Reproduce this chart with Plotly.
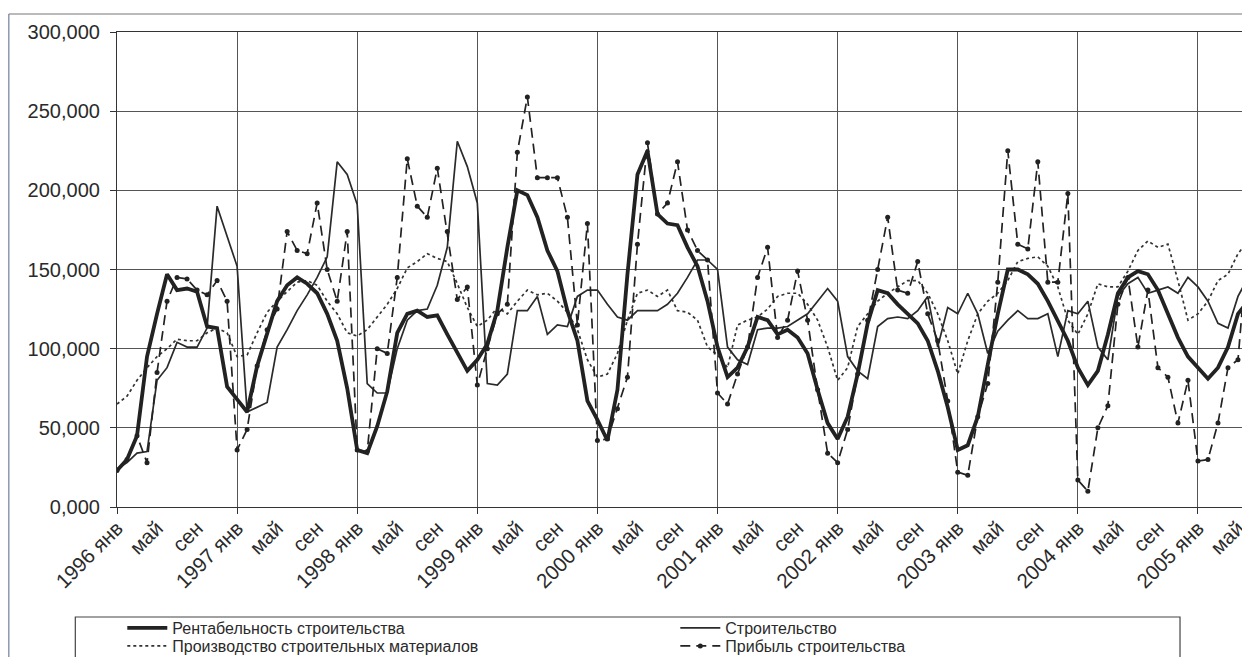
import plotly.graph_objects as go

# ---- data (thousands) ----
months_idx = list(range(114))  # 1996 янв .. 2005 июн

rentab = [23, 30, 45, 95, 122, 147, 137, 138, 136, 114, 113, 76,
          68, 60, 89, 110, 130, 140, 145, 141, 135, 122, 105, 75,
          36, 34, 51, 73, 110, 122, 124, 120, 121, 109, 97, 86,
          93, 103, 124, 164, 200, 197, 183, 162, 149, 124, 105, 67,
          55, 42, 74, 147, 210, 225, 185, 179, 178, 164, 152, 130,
          101, 82, 88, 101, 120, 118, 109, 112, 107, 97, 74, 53,
          43, 57, 84, 116, 137, 135, 128, 122, 116, 105, 86, 63,
          36, 39, 57, 90, 122, 150, 150, 147, 141, 130, 118, 105,
          88, 77, 86, 109, 135, 145, 149, 147, 137, 122, 107, 95,
          88, 81, 88, 101, 122, 130]

stroit = [24, 28, 34, 35, 80, 88, 104, 101, 101, 113, 190, 171,
          152, 60, 63, 66, 101, 112, 124, 134, 145, 158, 218, 210,
          191, 78, 72, 72, 100, 118, 124, 125, 140, 164, 231, 215,
          192, 78, 77, 84, 124, 124, 133, 109, 115, 114, 133, 137,
          137, 128, 120, 118, 124, 124, 124, 128, 135, 145, 156, 156,
          150, 101, 93, 90, 112, 113, 113, 114, 118, 122, 130, 138,
          130, 95, 86, 81, 114, 119, 120, 119, 124, 133, 101, 126,
          122, 135, 122, 97, 111, 118, 124, 119, 119, 122, 95, 124,
          122, 130, 101, 93, 133, 141, 145, 135, 137, 139, 135, 145,
          139, 130, 116, 113, 133, 145]

proizv = [65, 70, 80, 88, 95, 100, 106, 105, 105, 110, 113, 110,
          95, 96, 110, 123, 130, 136, 142, 143, 140, 130, 122, 110,
          108, 112, 120, 128, 138, 151, 155, 160, 157, 155, 141, 126,
          114, 118, 126, 122, 130, 137, 134, 135, 130, 123, 112, 93,
          82, 84, 97, 118, 135, 137, 133, 137, 124, 123, 118, 101,
          96, 88, 115, 118, 120, 125, 133, 135, 135, 128, 118, 101,
          80, 88, 114, 122, 130, 135, 139, 143, 143, 135, 122, 105,
          84, 105, 122, 130, 135, 143, 155, 157, 158, 152, 139, 118,
          109, 122, 141, 139, 139, 149, 162, 168, 164, 166, 143, 118,
          122, 130, 143, 147, 160, 168]

pribyl = [23, 30, 45, 28, 85, 130, 145, 144, 137, 134, 143, 130,
          36, 49, 89, 112, 125, 174, 162, 160, 192, 150, 130, 174,
          36, 35, 100, 97, 145, 220, 190, 183, 214, 174, 131, 139,
          77, 100, 122, 128, 224, 259, 208, 208, 208, 183, 115, 179,
          42, 43, 62, 82, 166, 230, 185, 192, 218, 175, 162, 156,
          72, 65, 84, 101, 145, 164, 107, 118, 149, 118, 74, 34,
          28, 49, 84, 118, 150, 183, 137, 135, 155, 122, 105, 67,
          22, 20, 57, 78, 142, 225, 166, 163, 218, 142, 142, 198,
          17, 10, 50, 64, 128, 145, 101, 137, 88, 82, 53, 80,
          29, 30, 53, 88, 93, 168]

tick_positions = list(range(0, 114, 4))
tick_labels = ["1996 янв", "май", "сен", "1997 янв", "май", "сен",
               "1998 янв", "май", "сен", "1999 янв", "май", "сен",
               "2000 янв", "май", "сен", "2001 янв", "май", "сен",
               "2002 янв", "май", "сен", "2003 янв", "май", "сен",
               "2004 янв", "май", "сен", "2005 янв", "май"]
year_grid = list(range(0, 114, 12))

names = ["Рентабельность строительства", "Строительство",
         "Производство строительных материалов", "Прибыль строительства"]

FONT = "Liberation Sans, Arial, sans-serif"
OFF = 8  # page body margin: figure is drawn 8px right/down of page origin
W, H = 1250 - OFF, 657 - OFF
# plot area in page pixels
L, R, T, B = 116.7 - OFF, 1248.0 - OFF, 32.0 - OFF, 507.0 - OFF


def px(x):  # page pixel -> paper x
    return (x - OFF - L) / (R - L)


def py(y):  # page pixel -> paper y
    return (B - (y - OFF)) / (B - T)


fig = go.Figure()
fig.add_trace(go.Scatter(x=months_idx, y=proizv, name=names[2], mode="lines",
                         line=dict(color="#333333", width=1.7, dash="dot"),
                         legend="legend2", legendrank=1))
fig.add_trace(go.Scatter(x=months_idx, y=stroit, name=names[1], mode="lines",
                         line=dict(color="#2a2a2a", width=1.7),
                         legend="legend", legendrank=2))
fig.add_trace(go.Scatter(x=months_idx, y=pribyl, name=names[3], mode="lines+markers",
                         line=dict(color="#222222", width=1.7, dash="10px,6px"),
                         marker=dict(size=5, color="#222222"),
                         legend="legend2", legendrank=2))
fig.add_trace(go.Scatter(x=months_idx, y=rentab, name=names[0], mode="lines",
                         line=dict(color="#222222", width=3.8),
                         legend="legend", legendrank=1))

shapes = [
    # outer chart border (top and left)
    dict(type="line", xref="paper", yref="paper", x0=px(8.5), x1=px(1255), y0=py(14), y1=py(14),
         line=dict(color="#777777", width=1.2)),
    dict(type="line", xref="paper", yref="paper", x0=px(8.5), x1=px(8.5), y0=py(14), y1=py(665),
         line=dict(color="#6f7f9a", width=1.2)),
    # legend box
    dict(type="rect", xref="paper", yref="paper", x0=px(75), x1=px(1180), y0=py(617), y1=py(700),
         line=dict(color="#444444", width=1.2), fillcolor="rgba(0,0,0,0)"),
]

leg_common = dict(orientation="h", xanchor="left", yanchor="top",
                  entrywidth=498, entrywidthmode="pixels",
                  font=dict(size=16, family=FONT, color="#2a2a2a"),
                  bgcolor="rgba(0,0,0,0)", borderwidth=0, itemwidth=40)

fig.update_layout(
    width=W, height=H,
    margin=dict(l=L, r=W - R, t=T, b=H - B, autoexpand=False),
    paper_bgcolor="white", plot_bgcolor="white",
    font=dict(family=FONT, color="#2a2a2a", size=19),
    separators=", ",
    showlegend=True,
    legend=dict(x=px(122), y=py(611), **leg_common),
    legend2=dict(x=px(122), y=py(629), **leg_common),
    shapes=shapes,
)

fig.update_xaxes(
    range=[0, 113], tickmode="array", tickvals=tick_positions, ticktext=tick_labels,
    tickangle=-45, showgrid=False, zeroline=False,
    showline=True, linecolor="#333333", linewidth=1.2, mirror=True,
    ticks="", tickfont=dict(size=20.5, family=FONT, color="#2a2a2a"),
    minor=dict(tickmode="array", tickvals=year_grid, showgrid=True,
               gridcolor="#555555", gridwidth=1, ticks="outside", ticklen=6,
               tickcolor="#333333"),
)
fig.update_yaxes(
    range=[0, 300], tickmode="array", tickvals=[0, 50, 100, 150, 200, 250, 300],
    tickformat=".3f", showgrid=True, gridcolor="#555555", gridwidth=1,
    zeroline=False, showline=True, linecolor="#333333", linewidth=1.2, mirror=True,
    ticks="outside", ticklen=6, tickcolor="#333333", ticklabelstandoff=6,
    tickfont=dict(size=20, family=FONT, color="#2a2a2a"),
)

fig.write_html("out.html")
